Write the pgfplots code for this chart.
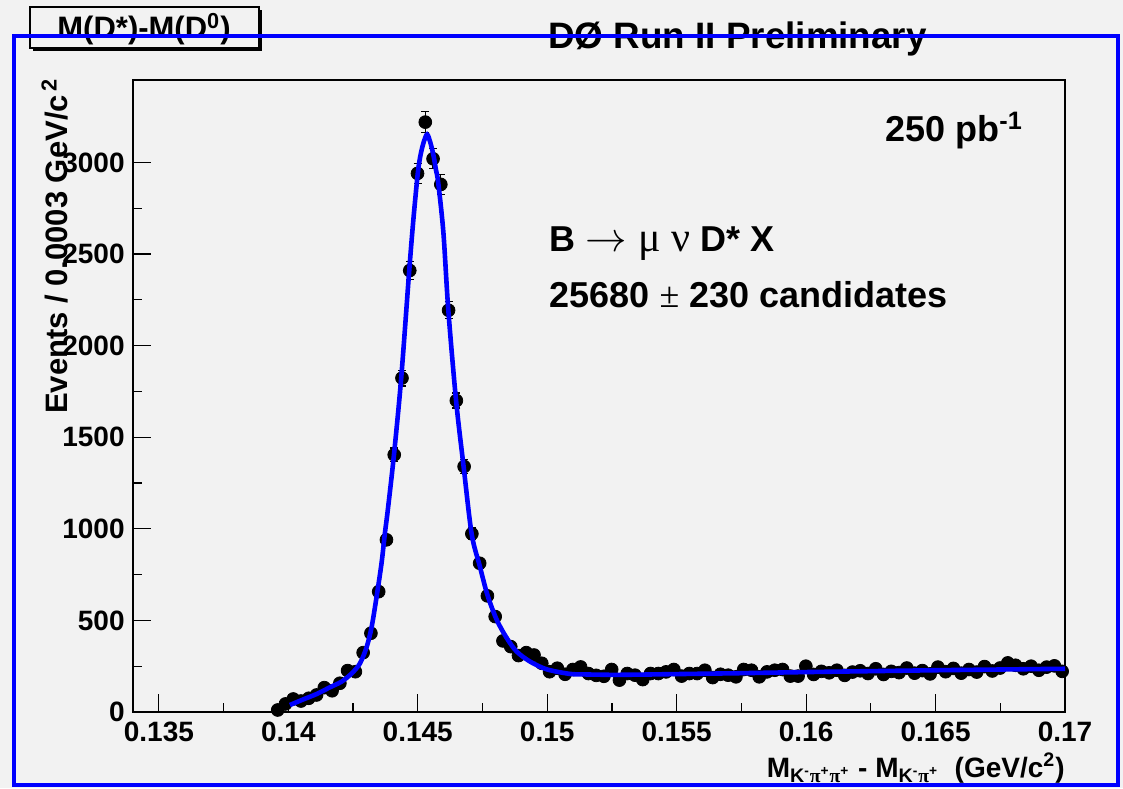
\documentclass[border=0pt]{standalone}
\usepackage{fontspec}
\setmainfont{Liberation Sans}
\newfontfamily\symfont{Liberation Serif}
\usepackage{pgfplots}
\usepackage{pgfplotstable}
\pgfplotsset{compat=1.18}
\definecolor{rootbg}{RGB}{242,242,242}

% D* - D0 mass difference, bins of 0.0003 GeV
\pgfplotstableread{
x y e
0.13959 11 3
0.13989 44 7
0.14019 71 8
0.14049 60 8
0.14079 75 9
0.14109 93 10
0.14139 133 12
0.14169 116 11
0.14199 157 13
0.14229 226 15
0.14259 220 15
0.14289 324 18
0.14319 430 21
0.14349 657 26
0.14379 940 31
0.14409 1404 37
0.14439 1823 43
0.14469 2410 49
0.14499 2940 54
0.14529 3220 57
0.14559 3020 55
0.14589 2880 54
0.14619 2193 47
0.14649 1700 41
0.14679 1340 37
0.14709 973 31
0.14739 812 28
0.14769 634 25
0.14799 521 23
0.14829 388 20
0.14859 357 19
0.14889 308 18
0.14919 324 18
0.14949 311 18
0.14979 266 16
0.15009 220 15
0.15039 239 15
0.15069 206 14
0.15099 232 15
0.15129 246 16
0.15159 210 14
0.15189 200 14
0.15219 195 14
0.15249 232 15
0.15279 174 13
0.15309 210 14
0.15339 201 14
0.15369 177 13
0.15399 210 14
0.15429 210 14
0.15459 219 15
0.15489 232 15
0.15519 196 14
0.15549 210 14
0.15579 210 14
0.15609 228 15
0.15639 188 14
0.15669 206 14
0.15699 201 14
0.15729 192 14
0.15759 232 15
0.15789 228 15
0.15819 192 14
0.15849 219 15
0.15879 228 15
0.15909 232 15
0.15939 196 14
0.15969 196 14
0.15999 250 16
0.16029 205 14
0.16059 222 15
0.16089 214 15
0.16119 228 15
0.16149 200 14
0.16179 218 15
0.16209 225 15
0.16239 210 14
0.16269 236 15
0.16299 205 14
0.16329 222 15
0.16359 215 15
0.16389 240 15
0.16419 212 15
0.16449 226 15
0.16479 208 14
0.16509 245 16
0.16539 220 15
0.16569 238 15
0.16599 212 15
0.16629 232 15
0.16659 218 15
0.16689 248 16
0.16719 224 15
0.16749 240 15
0.16779 268 16
0.16809 255 16
0.16839 236 15
0.16869 250 16
0.16899 228 15
0.16929 245 16
0.16959 252 16
0.16989 222 15
}\dstar

\begin{document}
\begin{tikzpicture}
\fill[rootbg] (0,0) rectangle (561.5pt,394pt);

\begin{axis}[
  at={(66.5pt,38pt)},anchor=south west,
  scale only axis,width=466pt,height=316pt,
  xmin=0.134,xmax=0.17,ymin=0,ymax=3450,
  xtick={0.135,0.14,0.145,0.15,0.155,0.16,0.165,0.17},
  xticklabels={0.135,0.14,0.145,0.15,0.155,0.16,0.165,0.17},
  ytick={0,500,1000,1500,2000,2500,3000},
  yticklabels={0,500,1000,1500,2000,2500,3000},
  minor x tick num=1,minor y tick num=1,
  tick align=inside,tick pos=left,
  major tick length=9pt,minor tick length=4.5pt,
  every tick/.style={black,line width=0.6pt},
  axis line style={line width=0.75pt},
  tick label style={font=\fontsize{14}{14}\selectfont\bfseries},
  xticklabel style={anchor=north,inner sep=0pt,yshift=-5pt},
  yticklabel style={anchor=east,inner sep=0pt,xshift=-4pt},
  clip mode=individual,
]
\addplot[only marks,mark=*,mark size=3.2pt,black,
  error bars/.cd,y dir=both,y explicit,
  error bar style={line width=0.6pt,black},
  error mark=-,
  error mark options={black,rotate=90,mark size=2pt,line width=0.6pt}]
  table[x=x,y=y,y error=e]{\dstar};
\addplot[blue,line width=2.3pt,smooth,tension=0.5,no markers] coordinates {
  (0.14006,38) (0.14058,69) (0.14109,98) (0.14161,135) (0.14206,166)
  (0.14245,211) (0.14277,266) (0.14303,357) (0.14322,466) (0.14341,630)
  (0.14360,812) (0.14373,976) (0.14384,1100) (0.14408,1404) (0.14436,1823)
  (0.14467,2410) (0.14483,2688) (0.14500,2940) (0.14511,3043) (0.14524,3116)
  (0.14536,3153) (0.14547,3116) (0.14560,3043) (0.14570,2961) (0.14579,2889)
  (0.14599,2616) (0.14618,2193) (0.14648,1699) (0.14677,1340) (0.14708,973)
  (0.14740,794) (0.14769,639) (0.14805,503) (0.14844,403) (0.14882,330)
  (0.14934,275) (0.14998,233) (0.15088,208) (0.1515,205) (0.1525,203)
  (0.1535,204) (0.155,207) (0.1575,212) (0.16,218) (0.1625,223)
  (0.165,228) (0.1675,232) (0.17,236)
};
\end{axis}

% axis titles
\node[rotate=90,anchor=base east,inner sep=0pt,font=\fontsize{15.5}{15.5}\selectfont\bfseries]
  at (33.5pt,355pt) {Events / 0.0003 GeV/c\textsuperscript{\,2}};
\node[anchor=base east,inner sep=0pt,font=\fontsize{14}{14}\selectfont\bfseries]
  at (532.5pt,5.5pt) {M\textsubscript{K\textsuperscript{-}{\symfont π}\textsuperscript{+}{\symfont π}\textsuperscript{+}} - M\textsubscript{K\textsuperscript{-}{\symfont π}\textsuperscript{+}}\ \ (GeV/c\textsuperscript{2})};

% text inside the frame
\node[anchor=base west,inner sep=0pt,font=\fontsize{18}{18}\selectfont\bfseries]
  at (442.5pt,323pt) {250 pb\textsuperscript{-1}};
\node[anchor=base west,inner sep=0pt,font=\fontsize{18}{18}\selectfont\bfseries]
  at (274.5pt,268pt) {B {\fontsize{21}{21}\selectfont$\rightarrow$ \mdseries\symfont μ ν} D* X};
\node[anchor=base west,inner sep=0pt,font=\fontsize{18}{18}\selectfont\bfseries]
  at (274.5pt,240pt) {25680 {\mdseries\symfont ±} 230 candidates};

% title box with shadow
\fill[black] (16.5pt,368.5pt) rectangle (131pt,389pt);
\filldraw[fill=rootbg,draw=black,line width=0.6pt] (15pt,370pt) rectangle (129.5pt,390.5pt);
\node[anchor=base,inner sep=0pt,font=\fontsize{15.5}{15.5}\selectfont\bfseries]
  at (72pt,374.5pt) {M(D*)-M(D\textsuperscript{0})};
\node[anchor=base west,inner sep=0pt,font=\fontsize{18.4}{18.4}\selectfont\bfseries]
  at (274pt,369.5pt) {DØ Run II Preliminary};

% blue frame on top
\draw[blue,line width=2.4pt] (7pt,1.5pt) rectangle (559pt,376pt);

\pgfresetboundingbox
\path[use as bounding box] (0,0) rectangle (561.5pt,394pt);
\end{tikzpicture}
\end{document}
